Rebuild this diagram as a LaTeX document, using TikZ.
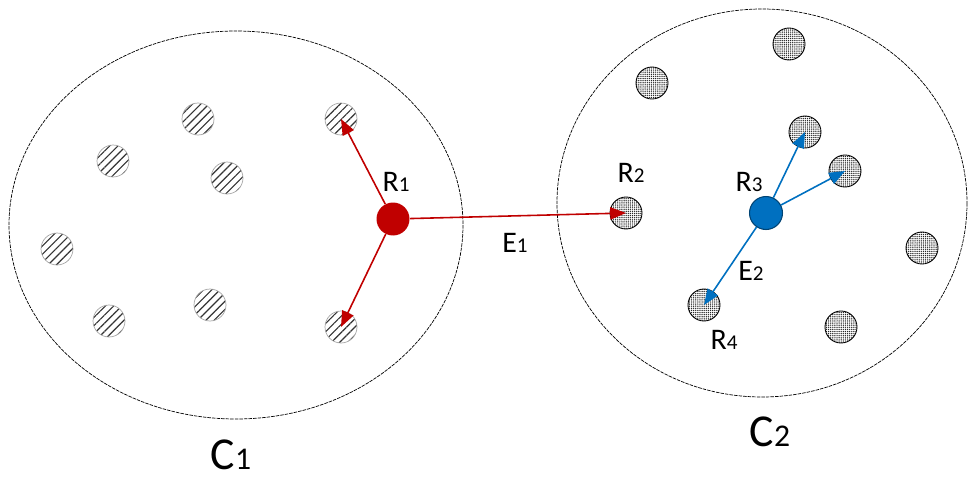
\documentclass[tikz,border=0pt]{standalone}
\usepackage{fontspec}
\setmainfont{Carlito}
\usetikzlibrary{arrows.meta,patterns.meta}

\definecolor{netred}{HTML}{C00000}
\definecolor{netblue}{HTML}{0070C0}
\newcommand{\ix}[1]{{\fontsize{12}{14}\selectfont #1}}
\newcommand{\bigix}[1]{{\fontsize{18}{20}\selectfont #1}}

\begin{document}
\begin{tikzpicture}[x=0.02cm,y=-0.02cm,
  cluster/.style={draw,line width=0.4pt,dash pattern=on 2pt off 0.6pt},
  hatchnode/.style={circle,draw=gray!70,line width=0.4pt,minimum size=0.64cm,inner sep=0pt,
    pattern={Lines[angle=45,distance=3.3pt,line width=0.65pt]},pattern color=black!80},
  dotnode/.style={circle,draw=black,line width=0.5pt,minimum size=0.64cm,inner sep=0pt,
    pattern={Dots[radius=0.42pt,distance=1.2pt]},pattern color=black!85},
  head/.style={circle,minimum size=0.66cm,inner sep=0pt},
  lbl/.style={font=\fontsize{17}{20}\selectfont,inner sep=0pt},
  redarrow/.style={draw=netred,line width=0.9pt,-{Triangle[length=9pt,width=7pt]},fill=netred},
  bluearrow/.style={draw=netblue,line width=0.9pt,-{Triangle[length=9pt,width=7pt]},fill=netblue}]
\useasboundingbox (0,0) rectangle (968,477);

% clusters
\draw[cluster] (236,225) ellipse [x radius=227,y radius=194];
\draw[cluster] (762,203) ellipse [x radius=205,y radius=194];
\node[font=\fontsize{26}{30}\selectfont,inner sep=0pt] (c1) at (231,455) {C\bigix{1}};
\node[font=\fontsize{26}{30}\selectfont,inner sep=0pt] (c2) at (770,432) {C\bigix{2}};

% nodes of C1
\node[hatchnode] (h1) at (198,119) {};
\node[hatchnode] (h2) at (113,161) {};
\node[hatchnode] (h3) at (227,178) {};
\node[hatchnode] (h4) at (341,119) {};
\node[hatchnode] (h5) at (57,249) {};
\node[hatchnode] (h6) at (109,321) {};
\node[hatchnode] (h7) at (210,305) {};
\node[hatchnode] (h8) at (341,327) {};
\node[head,fill=netred] (R1) at (393,219) {};

% nodes of C2
\node[dotnode] (d1) at (789,44) {};
\node[dotnode] (d2) at (652,83) {};
\node[dotnode] (d3) at (805,132) {};
\node[dotnode] (d4) at (845,171) {};
\node[dotnode] (R2) at (626,213) {};
\node[dotnode] (d5) at (922,248) {};
\node[dotnode] (R4) at (704,305) {};
\node[dotnode] (d6) at (841,327) {};
\node[head,fill=netblue,draw=netblue!60!black,line width=0.6pt] (R3) at (766,213) {};

% labels
\node[lbl] (l1) at (396,182) {R\ix{1}};
\node[lbl] (l2) at (631,173) {R\ix{2}};
\node[lbl] (l3) at (749,182) {R\ix{3}};
\node[lbl] (l4) at (724,340) {R\ix{4}};
\node[lbl] (e1) at (515,243) {E\ix{1}};
\node[lbl] (e2) at (751,271) {E\ix{2}};

% links
\draw[redarrow] (R1) -- (h4.center);
\draw[redarrow] (R1) -- (h8.center);
\draw[redarrow] (R1) -- (R2.center);
\draw[bluearrow] (R3) -- (d3.center);
\draw[bluearrow] (R3) -- (d4.center);
\draw[bluearrow] (R3) -- (R4.center);
\end{tikzpicture}
\end{document}
